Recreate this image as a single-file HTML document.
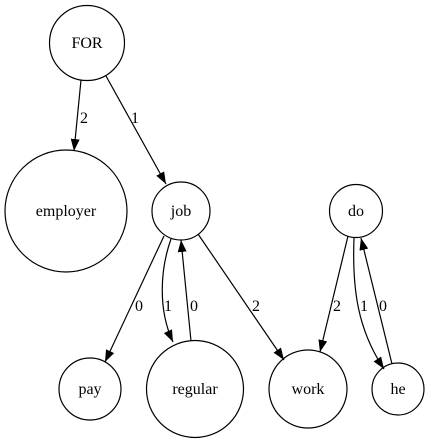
<!DOCTYPE html>
<html><head><meta charset="utf-8"><style>
html,body{margin:0;padding:0;background:#fff;}
svg{display:block;}
svg text{font-family:'Liberation Serif','Times New Roman','DejaVu Serif',serif;font-size:16px;}
</style></head><body>
<svg width="429" height="444" viewBox="0 0 429 444" xmlns="http://www.w3.org/2000/svg">
<defs>
<marker id="a" markerUnits="userSpaceOnUse" markerWidth="13" markerHeight="11" refX="12" refY="4.5" orient="auto">
<path d="M0,0 L12,4.5 L0,9 Z" fill="#000"/>
</marker>
</defs>
<g fill="none" stroke="#000" stroke-width="1.2">
<circle cx="87" cy="43" r="37.5"/>
<circle cx="66" cy="211" r="61"/>
<circle cx="181" cy="211" r="29"/>
<circle cx="356" cy="211" r="26.5"/>
<circle cx="90" cy="389" r="31"/>
<circle cx="195" cy="389" r="48.5"/>
<circle cx="308" cy="389" r="39"/>
<circle cx="398" cy="389" r="26"/>
<path d="M81,80 L74,151" marker-end="url(#a)"/>
<path d="M106,76 L166,184" marker-end="url(#a)"/>
<path d="M164,236 L105,362" marker-end="url(#a)"/>
<path d="M171,239 C160,270 158,310 173,342" marker-end="url(#a)"/>
<path d="M191,341 L181,240" marker-end="url(#a)"/>
<path d="M198,234 L284,360" marker-end="url(#a)"/>
<path d="M348,236 L320,352" marker-end="url(#a)"/>
<path d="M354,238 C352,290 358,330 384,369" marker-end="url(#a)"/>
<path d="M392,364 L361,238" marker-end="url(#a)"/>
</g>
<g text-anchor="middle" font-family="'Liberation Serif', 'Times New Roman', serif" font-size="16" fill="#000">
<text x="87" y="48">FOR</text>
<text x="66" y="216">employer</text>
<text x="181" y="216">job</text>
<text x="356" y="216">do</text>
<text x="90" y="394">pay</text>
<text x="195" y="394">regular</text>
<text x="308" y="394">work</text>
<text x="398" y="394">he</text>
<text x="84" y="123">2</text>
<text x="135" y="123">1</text>
<text x="139" y="311">0</text>
<text x="168" y="311">1</text>
<text x="194" y="311">0</text>
<text x="256" y="311">2</text>
<text x="337" y="311">2</text>
<text x="364" y="311">1</text>
<text x="383" y="311">0</text>
</g>
</svg>
</body></html>
